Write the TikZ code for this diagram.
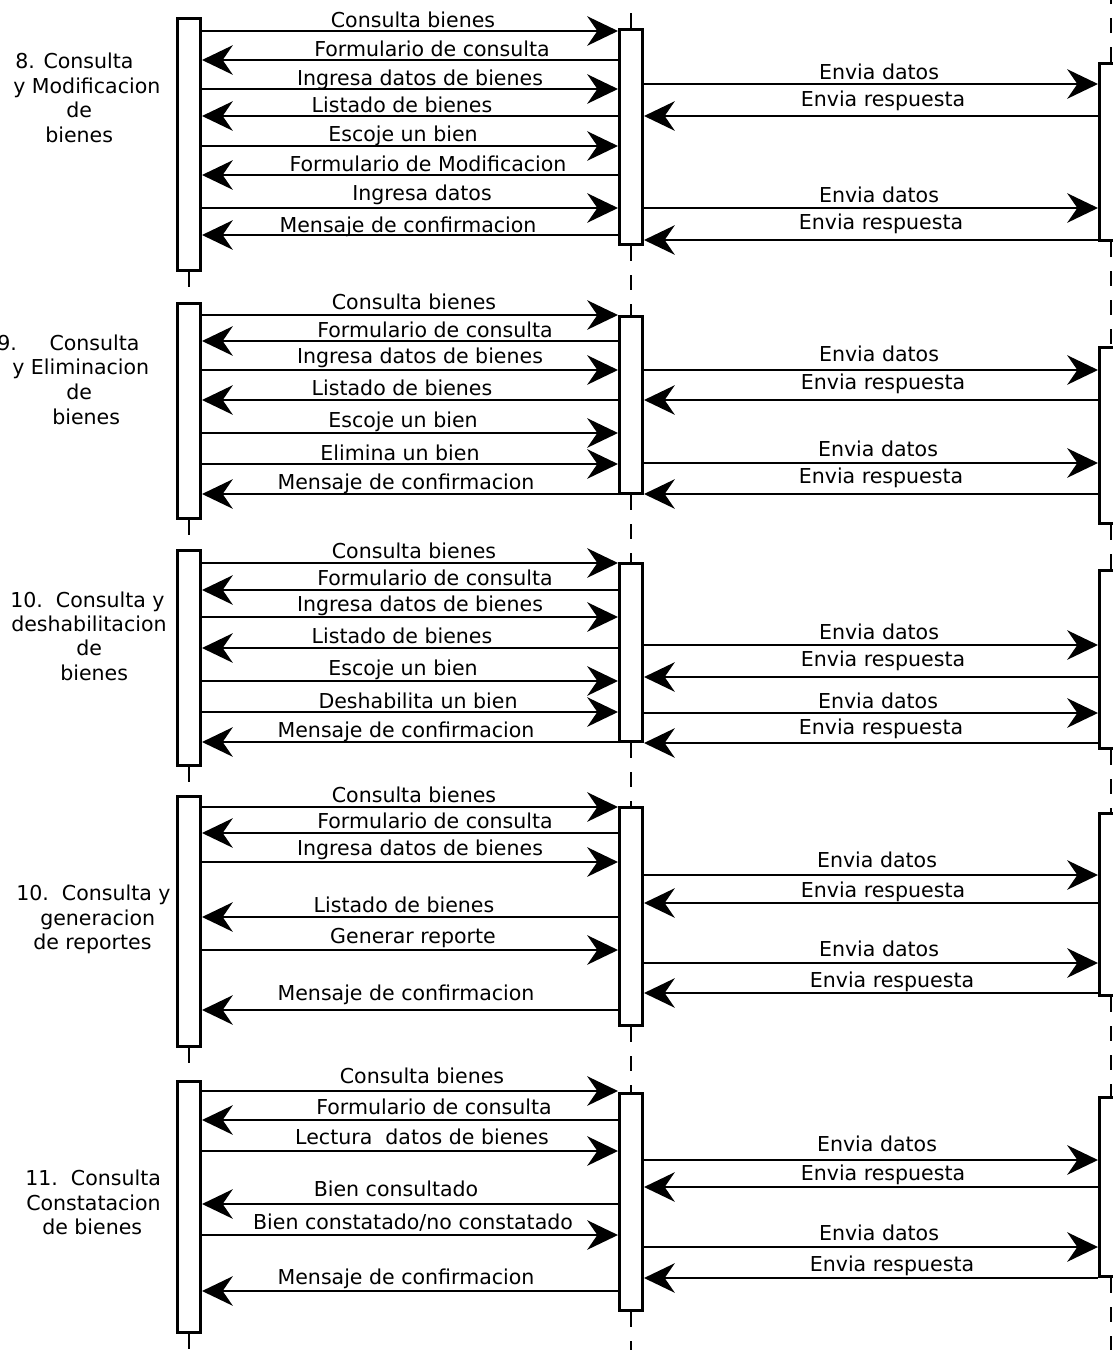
\documentclass[tikz,border=0pt]{standalone}
\usepackage{fontspec}
\setmainfont{DejaVu Sans}
\usetikzlibrary{arrows.meta}

% activation box: name, centre x, top y, bottom y (pixel units)
\newcommand\actbox[4]{%
  \node[act, minimum height={(#4-#3)*0.75pt-2.6pt}] (#1) at (#2,{(#3+#4)/2}) {};}
% message: start anchor, end anchor, y, label rise, label x offset, text
\newcommand\msg[6]{%
  \draw[msgline] (#1 |- 0,#3) -- node[lbl, yshift={#4*0.75pt}, xshift={#5*0.75pt}] {#6} (#2 |- 0,#3);}

\begin{document}
\begin{tikzpicture}[x=0.75pt, y=-0.75pt,
  act/.style={draw, line width=2.6pt, fill=white, inner sep=0pt,
    minimum width=16.9pt},
  msgline/.style={line width=2.2pt,
    -{Stealth[length=23pt, width=22pt, inset=7.5pt]}},
  lifeline/.style={line width=1.5pt, dash pattern=on 11.25pt off 10.5pt},
  stubline/.style={line width=1.5pt, dash pattern=on 11.25pt off 13pt},
  lbl/.style={font=\fontsize{15.4pt}{18.5pt}\selectfont, anchor=base, inner sep=0pt},
  side/.style={font=\fontsize{15.4pt}{18.5pt}\selectfont, anchor=base west, inner sep=0pt}]

\useasboundingbox (0,0) rectangle (1113,1350);
\clip (0,0) rectangle (1113,1350);

% lifeline ends
\coordinate (Lend) at (189,1350);
\coordinate (Mtop) at (631,0);
\coordinate (Mend) at (631,1350);
\coordinate (Rtop) at (1111,0);
\coordinate (Rend) at (1111,1350);

% activation boxes of the three participants
\actbox{L1}{189}{17}{272}
\actbox{M1}{631}{28}{246}
\actbox{R1}{1111}{62}{242}
\actbox{L2}{189}{302}{520}
\actbox{M2}{631}{315}{495}
\actbox{R2}{1111}{346}{525}
\actbox{L3}{189}{549}{767}
\actbox{M3}{631}{562}{743}
\actbox{R3}{1111}{569}{750}
\actbox{L4}{189}{795}{1048}
\actbox{M4}{631}{806}{1027}
\actbox{R4}{1111}{812}{997}
\actbox{L5}{189}{1080}{1334}
\actbox{M5}{631}{1092}{1312}
\actbox{R5}{1111}{1096}{1278}

% dashed lifelines between the boxes
\draw[stubline] (L1.south) -- (L2.north);
\draw[stubline] (L2.south) -- (L3.north);
\draw[stubline] (L3.south) -- (L4.north);
\draw[stubline] (L4.south) -- (L5.north);
\draw[stubline] (L5.south) -- (Lend);
\draw[lifeline] (M1.north) -- (Mtop);
\draw[lifeline] (M1.south) -- (M2.north);
\draw[lifeline] (M2.south) -- (M3.north);
\draw[lifeline] (M3.south) -- (M4.north);
\draw[lifeline] (M4.south) -- (M5.north);
\draw[lifeline] (M5.south) -- (Mend);
\draw[lifeline] (R1.north) -- (Rtop);
\draw[lifeline] (R1.south) -- (R2.north);
\draw[lifeline] (R2.south) -- (R3.north);
\draw[lifeline] (R3.south) -- (R4.north);
\draw[lifeline] (R4.south) -- (R5.north);
\draw[lifeline] (R5.south) -- (Rend);

% 8. Consulta y Modificacion de bienes
\node[side] (t1a) at (15,68) {8. Consulta};
\node[side] (t1b) at (13,93) {y Modificacion};
\node[side] (t1c) at (66,117) {de};
\node[side] (t1d) at (45,142) {bienes};
\msg{L1.east}{M1.west}{31}{4}{3}{Consulta bienes}
\msg{M1.west}{L1.east}{60}{4}{22}{Formulario de consulta}
\msg{L1.east}{M1.west}{89}{4}{10}{Ingresa datos de bienes}
\msg{M1.west}{L1.east}{116}{4}{-8}{Listado de bienes}
\msg{L1.east}{M1.west}{146}{5}{-7}{Escoje un bien}
\msg{M1.west}{L1.east}{175}{4}{18}{Formulario de Modificacion}
\msg{L1.east}{M1.west}{208}{8}{12}{Ingresa datos}
\msg{M1.west}{L1.east}{235}{3}{-2}{Mensaje de confirmacion}
\msg{M1.east}{R1.west}{84}{5}{8}{Envia datos}
\msg{R1.west}{M1.east}{116}{10}{12}{Envia respuesta}
\msg{M1.east}{R1.west}{208}{6}{8}{Envia datos}
\msg{R1.west}{M1.east}{240}{11}{10}{Envia respuesta}

% 9. Consulta y Eliminacion de bienes
\node[side] (t2a) at (-3,350) {9.\hspace*{24.5pt}Consulta};
\node[side] (t2b) at (12,374) {y Eliminacion};
\node[side] (t2c) at (66,399) {de};
\node[side] (t2d) at (52,424) {bienes};
\msg{L2.east}{M2.west}{315}{6}{4}{Consulta bienes}
\msg{M2.west}{L2.east}{341}{4}{25}{Formulario de consulta}
\msg{L2.east}{M2.west}{370}{7}{10}{Ingresa datos de bienes}
\msg{M2.west}{L2.east}{400}{5}{-8}{Listado de bienes}
\msg{L2.east}{M2.west}{433}{6}{-7}{Escoje un bien}
\msg{L2.east}{M2.west}{464}{4}{-10}{Elimina un bien}
\msg{M2.west}{L2.east}{494}{5}{-4}{Mensaje de confirmacion}
\msg{M2.east}{R2.west}{370}{9}{8}{Envia datos}
\msg{R2.west}{M2.east}{400}{11}{12}{Envia respuesta}
\msg{M2.east}{R2.west}{463}{7}{7}{Envia datos}
\msg{R2.west}{M2.east}{494}{11}{10}{Envia respuesta}

% 10. Consulta y deshabilitacion de bienes
\node[side] (t3a) at (10,607) {10.\ \ Consulta y};
\node[side] (t3b) at (11,631) {deshabilitacion};
\node[side] (t3c) at (76,655) {de};
\node[side] (t3d) at (60,680) {bienes};
\msg{L3.east}{M3.west}{563}{5}{4}{Consulta bienes}
\msg{M3.west}{L3.east}{590}{5}{25}{Formulario de consulta}
\msg{L3.east}{M3.west}{617}{6}{10}{Ingresa datos de bienes}
\msg{M3.west}{L3.east}{648}{5}{-8}{Listado de bienes}
\msg{L3.east}{M3.west}{681}{6}{-7}{Escoje un bien}
\msg{L3.east}{M3.west}{712}{4}{8}{Deshabilita un bien}
\msg{M3.west}{L3.east}{742}{5}{-4}{Mensaje de confirmacion}
\msg{M3.east}{R3.west}{645}{6}{8}{Envia datos}
\msg{R3.west}{M3.east}{677}{11}{12}{Envia respuesta}
\msg{M3.east}{R3.west}{713}{5}{7}{Envia datos}
\msg{R3.west}{M3.east}{743}{9}{10}{Envia respuesta}

% 10. Consulta y generacion de reportes
\node[side] (t4a) at (16,900) {10.\ \ Consulta y};
\node[side] (t4b) at (40,925) {generacion};
\node[side] (t4c) at (33,949) {de reportes};
\msg{L4.east}{M4.west}{807}{5}{4}{Consulta bienes}
\msg{M4.west}{L4.east}{833}{5}{25}{Formulario de consulta}
\msg{L4.east}{M4.west}{862}{7}{10}{Ingresa datos de bienes}
\msg{M4.west}{L4.east}{917}{5}{-6}{Listado de bienes}
\msg{L4.east}{M4.west}{950}{7}{3}{Generar reporte}
\msg{M4.west}{L4.east}{1010}{10}{-4}{Mensaje de confirmacion}
\msg{M4.east}{R4.west}{875}{8}{6}{Envia datos}
\msg{R4.west}{M4.east}{903}{6}{12}{Envia respuesta}
\msg{M4.east}{R4.west}{963}{7}{8}{Envia datos}
\msg{R4.west}{M4.east}{993}{6}{21}{Envia respuesta}

% 11. Consulta Constatacion de bienes
\node[side] (t5a) at (25,1185) {11.\ \ Consulta};
\node[side] (t5b) at (26,1210) {Constatacion};
\node[side] (t5c) at (42,1234) {de bienes};
\msg{L5.east}{M5.west}{1091}{8}{12}{Consulta bienes}
\msg{M5.west}{L5.east}{1120}{6}{24}{Formulario de consulta}
\msg{L5.east}{M5.west}{1151}{7}{12}{Lectura\ \ datos de bienes}
\msg{M5.west}{L5.east}{1204}{8}{-14}{Bien consultado}
\msg{L5.east}{M5.west}{1235}{6}{3}{Bien constatado/no constatado}
\msg{M5.west}{L5.east}{1291}{7}{-4}{Mensaje de confirmacion}
\msg{M5.east}{R5.west}{1160}{9}{6}{Envia datos}
\msg{R5.west}{M5.east}{1187}{7}{12}{Envia respuesta}
\msg{M5.east}{R5.west}{1247}{7}{8}{Envia datos}
\msg{R5.west}{M5.east}{1278}{7}{21}{Envia respuesta}

\end{tikzpicture}
\end{document}
